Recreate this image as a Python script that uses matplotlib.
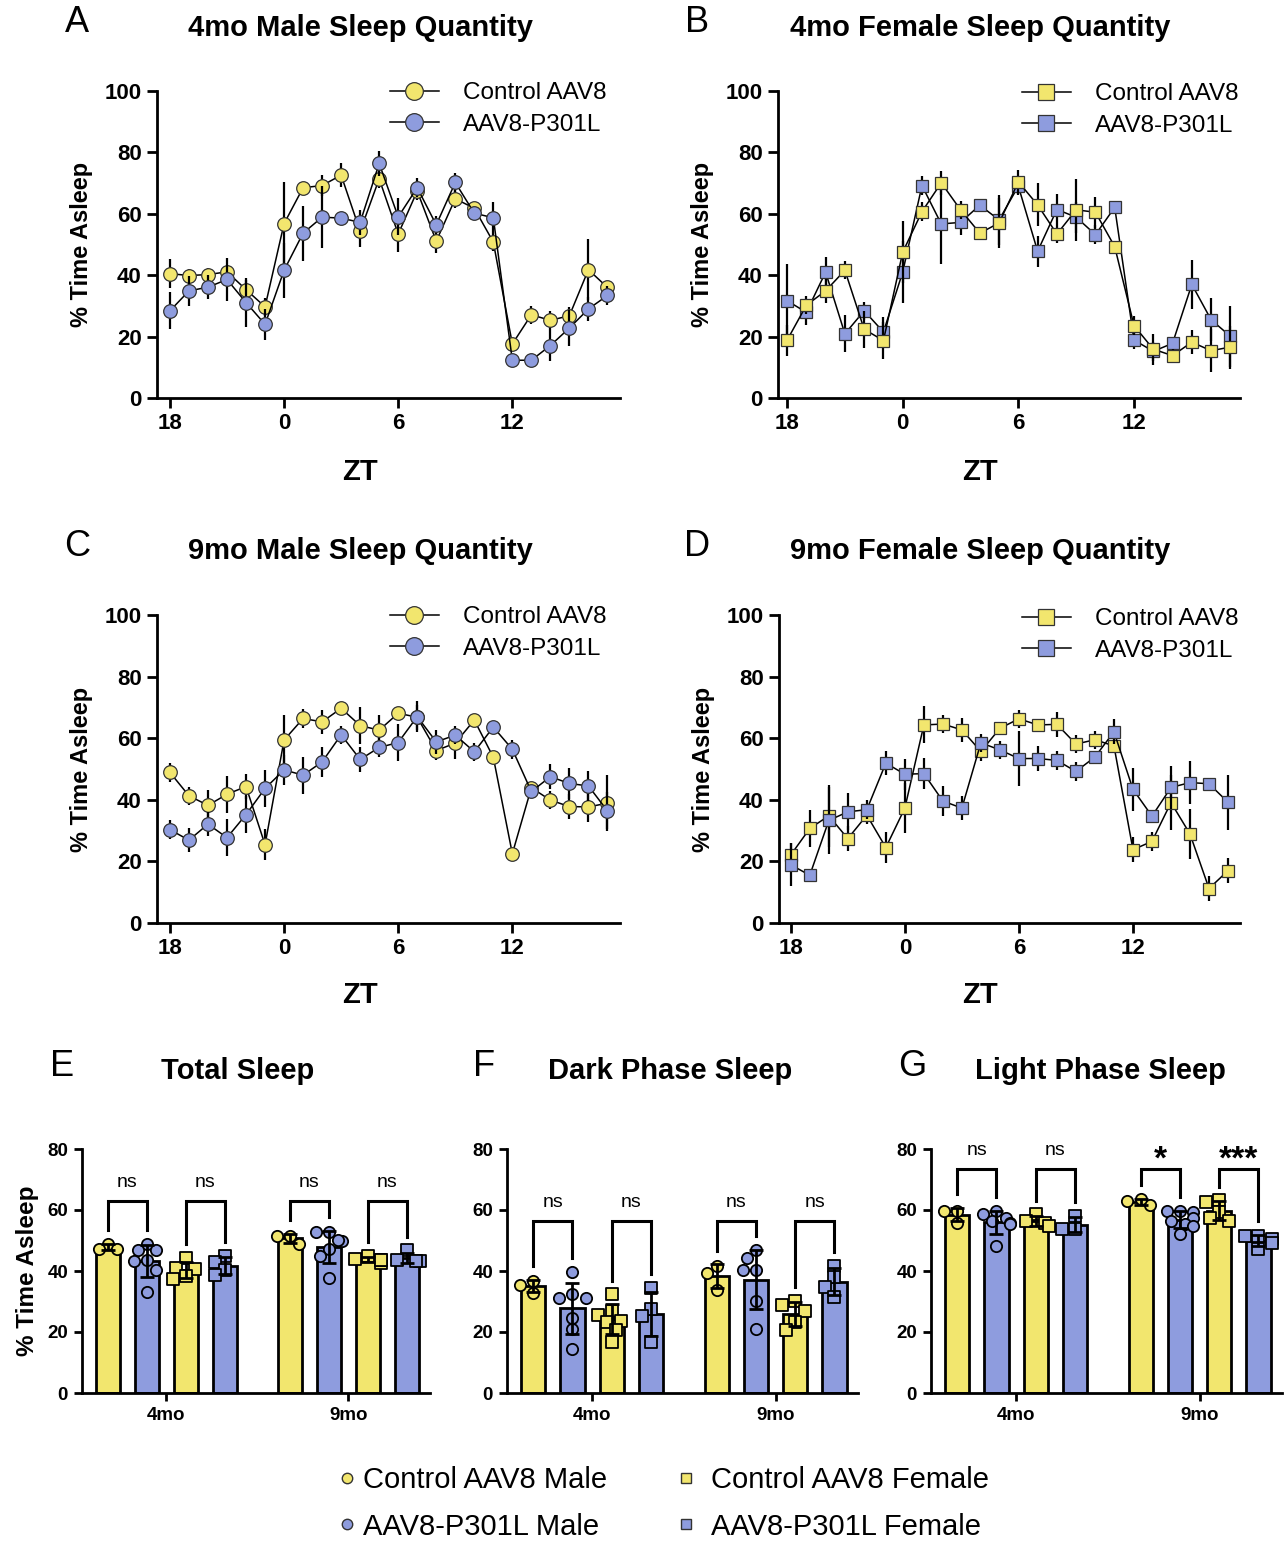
import numpy as np
import matplotlib
matplotlib.use('Agg')
import matplotlib.pyplot as plt

plt.rcParams['font.family'] = ['Liberation Sans', 'DejaVu Sans']

W, H = 1285, 1541
YELLOW = '#F2E66E'
BLUE = '#8E9CDE'

# ZT hour of each hourly bin (recording starts at ZT18)
ZT = [18, 19, 20, 21, 22, 23, 0, 1, 2, 3, 4, 5, 6, 7, 8, 9, 10, 11, 12, 13, 14, 15, 16, 17]
ZT_TICKS = [18, 0, 6, 12]

# panel A - 4mo male, mean and SEM per hour
a_ctrl = [40.5, 39.9, 40.2, 41.1, 35.3, 29.7, 56.8, 68.5, 69.2, 72.6, 54.3, 71.4,
          53.4, 67.4, 51.1, 64.9, 61.8, 50.8, 17.6, 27.1, 25.3, 26.8, 41.8, 36.0]
a_ctrl_err = [4.8, 2, 2, 2, 3, 3, 13.5, 2, 3.4, 4, 5, 3, 6, 3, 4, 3, 1.5, 3, 2, 3, 3, 3, 10, 2]
a_tau = [28.4, 34.9, 36.1, 38.6, 31.1, 24.0, 41.6, 53.7, 58.9, 58.6, 57.2, 76.4,
         59.0, 68.5, 56.4, 70.2, 60.2, 58.7, 12.3, 12.3, 17.1, 22.8, 29.0, 33.4]
a_tau_err = [6, 5, 4, 7, 8, 5, 9, 9, 10, 2, 4, 4, 6, 3, 3, 3, 1, 5, 1, 2, 5, 6, 4, 3]

# panel B - 4mo female
b_ctrl = [18.8, 30.2, 34.9, 41.6, 22.4, 18.7, 47.5, 60.7, 70.1, 61.3, 53.7, 57.0,
          70.4, 62.9, 53.4, 61.3, 60.5, 49.3, 23.6, 15.9, 13.8, 18.2, 15.4, 16.6]
b_ctrl_err = [5, 3, 4, 3, 6, 6, 10, 3, 4, 3, 2, 8, 4, 7, 3, 10, 5, 2, 3, 5, 2, 4, 7, 7]
b_tau = [31.7, 27.9, 41.0, 20.9, 28.4, 21.5, 41.0, 69.2, 56.7, 57.2, 62.8, 58.0,
         69.0, 47.8, 61.4, 58.9, 53.2, 62.1, 18.9, 15.2, 17.8, 37.0, 25.5, 20.1]
b_tau_err = [12, 4, 5, 6, 3, 5, 10, 3, 13, 4, 2, 8, 3, 5, 5, 5, 3, 2, 3, 3, 2, 8, 7, 10]

# panel C - 9mo male
c_ctrl = [48.9, 41.3, 38.2, 41.8, 44.3, 25.4, 59.4, 66.4, 65.3, 69.7, 64.1, 62.6,
          68.1, 66.8, 56.0, 58.4, 65.9, 53.8, 22.5, 43.9, 39.9, 37.8, 37.7, 38.9]
c_ctrl_err = [3, 3, 5, 6, 4, 5, 8, 3, 4, 2, 6, 5, 2, 4, 3, 5, 2, 2, 2, 2, 3, 4, 5, 9]
c_tau = [30.3, 26.9, 32.1, 27.7, 35.2, 43.7, 49.7, 48.0, 52.3, 61.1, 53.1, 57.0,
         58.6, 67.0, 58.8, 61.0, 55.6, 63.6, 56.4, 42.7, 47.5, 45.3, 44.5, 36.4]
c_tau_err = [3, 4, 4, 6, 6, 6, 5, 6, 5, 3, 4, 3, 6, 5, 4, 3, 3, 2, 3, 2, 4, 5, 5, 6]

# panel D - 9mo female
d_ctrl = [22.1, 30.7, 34.8, 27.4, 35.0, 24.5, 37.3, 64.3, 64.6, 62.7, 55.7, 63.2,
          66.3, 64.3, 64.5, 58.1, 59.5, 57.5, 23.8, 26.5, 39.1, 28.9, 11.2, 17.0]
d_ctrl_err = [4, 6, 10, 4, 3, 5, 8, 6, 3, 4, 3, 2, 3, 2, 4, 3, 3, 2, 4, 3, 9, 8, 4, 4]
d_tau = [18.9, 15.5, 33.3, 36.1, 36.8, 51.9, 48.3, 48.5, 39.6, 37.3, 58.5, 56.2,
         53.4, 53.4, 52.8, 49.2, 53.9, 62.1, 43.4, 34.7, 44.0, 45.6, 45.2, 39.2]
d_tau_err = [7, 2, 11, 6, 3, 4, 5, 5, 5, 4, 3, 3, 9, 4, 3, 3, 2, 4, 7, 2, 7, 7, 2, 9]

# panels E-G: individual animals, order = ctrl male, P301L male, ctrl female, P301L female
AGES = ['4mo', '9mo']
total_4mo = [[49.0, 47.2, 47.3],
             [49.0, 46.8, 47.0, 43.5, 43.3, 40.4, 33.0],
             [44.3, 41.0, 40.5, 38.3, 37.4],
             [45.0, 42.8, 40.4, 38.8]]
total_9mo = [[49.0, 51.6, 51.6],
             [52.7, 52.7, 49.7, 50.3, 47.2, 44.8, 37.7],
             [45.0, 44.0, 42.5, 43.5, 43.5],
             [46.8, 43.2, 43.2, 43.7]]
dark_4mo = [[36.8, 35.4, 32.9],
            [39.8, 32.3, 31.3, 31.0, 24.7, 20.9, 14.3],
            [32.3, 27.0, 25.5, 23.7, 23.4, 20.5, 16.7],
            [34.5, 27.4, 25.2, 16.8]]
dark_9mo = [[41.5, 39.3, 33.9],
            [46.8, 44.3, 40.4, 40.4, 30.1, 21.0],
            [30.1, 29.0, 26.8, 23.2, 20.8],
            [41.7, 38.0, 34.8, 31.5]]
light_4mo = [[59.7, 59.7, 55.9],
             [59.7, 58.6, 57.5, 55.9, 55.3, 56.4, 48.2],
             [58.6, 56.4, 55.9, 54.6],
             [58.1, 53.7, 53.7]]
light_9mo = [[61.6, 63.6, 63.0],
             [59.7, 59.7, 59.2, 57.5, 56.4, 55.3, 54.8, 52.1],
             [63.2, 62.7, 59.2, 56.4, 57.5],
             [51.5, 51.5, 50.4, 47.3, 49.3]]
total_sig = ['ns', 'ns', 'ns', 'ns']
dark_sig = ['ns', 'ns', 'ns', 'ns']
light_sig = ['ns', 'ns', '*', '***']
total_bracket, dark_bracket, light_bracket = 63.1, 56.3, 73.4

GROUP_FILL = [YELLOW, BLUE, YELLOW, BLUE]
GROUP_MARK = ['o', 'o', 's', 's']

fig = plt.figure(figsize=(W / 100, H / 100), dpi=100)


def px_axes(left, top, right, bottom):
    return fig.add_axes([left / W, 1 - bottom / H, (right - left) / W, (bottom - top) / H])


def style_axes(ax, ticksize, ticklen):
    for s in ['top', 'right']:
        ax.spines[s].set_visible(False)
    for s in ['left', 'bottom']:
        ax.spines[s].set_linewidth(2.0)
    ax.tick_params(direction='out', length=ticklen, width=2.0, labelsize=ticksize, pad=4)
    for lab in ax.get_xticklabels() + ax.get_yticklabels():
        lab.set_fontweight('bold')


def sleep_panel(ax, ctrl, ctrl_err, tau, tau_err, marker, xlim, ctrl_on_top, leg_xy):
    x = np.arange(len(ZT))
    ms = 9.8 if marker == 'o' else 9.2
    z_ctrl, z_tau = (4, 2) if ctrl_on_top else (2, 4)
    handles = []
    for vals, errs, col, z in [(ctrl, ctrl_err, YELLOW, z_ctrl), (tau, tau_err, BLUE, z_tau)]:
        ax.errorbar(x, vals, yerr=errs, fmt='none', ecolor='black', elinewidth=1.6,
                    capsize=0, zorder=z, clip_on=False)
        ln, = ax.plot(x, vals, color='black', lw=1.1, marker=marker, ms=ms, mfc=col,
                      mec='#333333', mew=0.9, zorder=z + 0.5, clip_on=False)
        handles.append(ln)
    ax.set_xlim(*xlim)
    ax.set_ylim(0, 100)
    ax.set_yticks([0, 20, 40, 60, 80, 100])
    ax.set_xticks([ZT.index(t) for t in ZT_TICKS])
    ax.set_xticklabels([str(t) for t in ZT_TICKS])
    style_axes(ax, 16, 7)
    ax.set_ylabel('% Time Asleep', fontsize=17, fontweight='bold', labelpad=8)
    fig.legend(handles, ['Control AAV8', 'AAV8-P301L'], loc='center left',
               bbox_to_anchor=(leg_xy[0] / W, 1 - leg_xy[1] / H), frameon=False,
               fontsize=17.5, handlelength=2.0, handletextpad=1.0, labelspacing=0.4,
               borderpad=0, borderaxespad=0, markerscale=1.3)


def spread(vals, x0, xs_px=39.0, ys_px=3.05, d=10.5):
    cands = [0, -0.24, 0.24, -0.12, 0.12, -0.34, 0.34]
    placed = []
    xs = np.zeros(len(vals))
    for i in np.argsort(vals)[::-1]:
        off = cands[-1]
        for c in cands:
            if all(np.hypot((c - px) * xs_px, (vals[i] - py) * ys_px) >= d for px, py in placed):
                off = c
                break
        xs[i] = x0 + off
        placed.append((off, vals[i]))
    return xs


def bar_panel(ax, young, old, sig, bracket_y, ylabel=False):
    starts = [0, 4.68]
    for age_i, groups in enumerate([young, old]):
        centers = []
        tops = []
        for gi, pts in enumerate(groups):
            pts = np.array(pts)
            xc = starts[age_i] + gi
            m, sd = pts.mean(), pts.std(ddof=1)
            ax.bar(xc, m, width=0.62, color=GROUP_FILL[gi], edgecolor='black', lw=2.0, zorder=2)
            ax.scatter(spread(pts, xc), pts, s=66, marker=GROUP_MARK[gi], c=GROUP_FILL[gi],
                       edgecolors='black', linewidths=1.3, zorder=3, clip_on=False)
            ax.errorbar(xc, m, yerr=sd, fmt='none', ecolor='black', elinewidth=2.0,
                        capsize=5, capthick=2.0, zorder=4)
            centers.append(xc)
            tops.append(max(pts.max(), m + sd) + 4.5)
        for p in range(2):
            lx, rx = centers[2 * p], centers[2 * p + 1]
            ax.plot([lx, lx, rx, rx], [tops[2 * p], bracket_y, bracket_y, tops[2 * p + 1]],
                    color='black', lw=2.2, clip_on=False, zorder=5, solid_joinstyle='miter')
            lab = sig[age_i * 2 + p]
            if lab == 'ns':
                ax.text((lx + rx) / 2, bracket_y + 6, lab, ha='center', va='center', fontsize=14)
            else:
                ax.text((lx + rx) / 2, bracket_y + 0.3, lab, ha='center', va='baseline',
                        fontsize=24, fontweight='bold')
    ax.set_xlim(-0.67, 8.28)
    ax.set_ylim(0, 80)
    ax.set_yticks([0, 20, 40, 60, 80])
    ax.set_xticks([s + 1.5 for s in starts])
    ax.set_xticklabels(AGES)
    style_axes(ax, 13.5, 6)
    if ylabel:
        ax.set_ylabel('% Time Asleep', fontsize=17.5, fontweight='bold', labelpad=6)


ax_a = px_axes(157, 91, 620, 398)
sleep_panel(ax_a, a_ctrl, a_ctrl_err, a_tau, a_tau_err, 'o', (-0.68, 23.66), False, (390, 109))
ax_b = px_axes(778, 91, 1240, 398)
sleep_panel(ax_b, b_ctrl, b_ctrl_err, b_tau, b_tau_err, 's', (-0.47, 23.5), True, (1022, 110))
ax_c = px_axes(157, 615, 620, 923)
sleep_panel(ax_c, c_ctrl, c_ctrl_err, c_tau, c_tau_err, 'o', (-0.68, 23.66), False, (390, 633))
ax_d = px_axes(779, 615, 1240, 923)
sleep_panel(ax_d, d_ctrl, d_ctrl_err, d_tau, d_tau_err, 's', (-0.62, 23.63), False, (1022, 635))

ax_e = px_axes(82, 1149, 430, 1393)
bar_panel(ax_e, total_4mo, total_9mo, total_sig, total_bracket, ylabel=True)
ax_f = px_axes(507, 1149, 858, 1393)
bar_panel(ax_f, dark_4mo, dark_9mo, dark_sig, dark_bracket)
ax_g = px_axes(931, 1149, 1282, 1393)
bar_panel(ax_g, light_4mo, light_9mo, light_sig, light_bracket)

# titles, ZT labels and panel letters
titles = [('4mo Male Sleep Quantity', 360, 28), ('4mo Female Sleep Quantity', 980, 28),
          ('9mo Male Sleep Quantity', 360, 551), ('9mo Female Sleep Quantity', 980, 551),
          ('Total Sleep', 238, 1071), ('Dark Phase Sleep', 670, 1071),
          ('Light Phase Sleep', 1100, 1071)]
for txt, x, y in titles:
    fig.text(x / W, 1 - y / H, txt, ha='center', va='center', fontsize=21, fontweight='bold')
for x, y in [(360, 472), (980, 472), (360, 995), (980, 995)]:
    fig.text(x / W, 1 - y / H, 'ZT', ha='center', va='center', fontsize=21, fontweight='bold')
letters = [('A', 77, 22), ('B', 697, 22), ('C', 77, 547), ('D', 697, 547),
           ('E', 62, 1067), ('F', 484, 1067), ('G', 912, 1067)]
for txt, x, y in letters:
    fig.text(x / W, 1 - y / H, txt, ha='center', va='center', fontsize=26)

# shared legend for the bar panels
leg_handles = [plt.Line2D([], [], ls='none', marker=GROUP_MARK[i], ms=7.5, mfc=GROUP_FILL[i],
                          mec='#333333', mew=1.0) for i in range(4)]
leg_names = ['Control AAV8 Male', 'AAV8-P301L Male', 'Control AAV8 Female', 'AAV8-P301L Female']
for col, x0, pad in [(0, 340, 0.28), (1, 679, 0.6)]:
    fig.legend(leg_handles[2 * col:2 * col + 2], leg_names[2 * col:2 * col + 2],
               loc='center left', bbox_to_anchor=(x0 / W, 1 - 1503.5 / H), frameon=False,
               fontsize=21, handlelength=0.5, handletextpad=pad, labelspacing=0.62,
               borderpad=0, borderaxespad=0)

fig.savefig('out.png', dpi=100)
